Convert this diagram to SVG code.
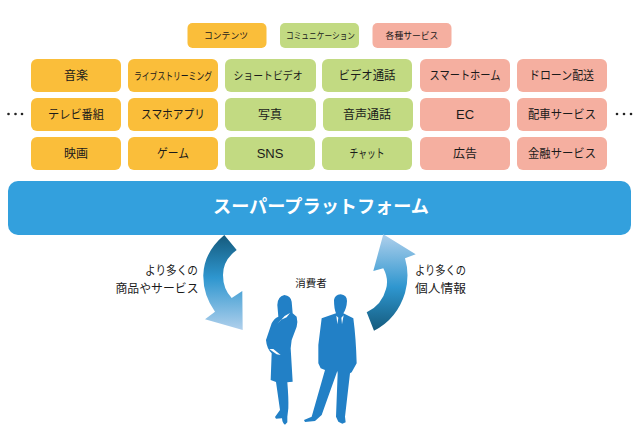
<svg xmlns="http://www.w3.org/2000/svg" width="640" height="432" viewBox="0 0 640 432">
<style>
text{font-family:"Noto Sans CJK JP","Noto Sans",sans-serif;fill:#1a1a1a;text-anchor:middle}
.t{font-size:12px}.l{font-size:8.8px}.c{font-size:12px}
.o{fill:#fabe3a}.g{fill:#c2da82}.p{fill:#f5afa0}
.fig{fill:#2280c6}
.dot{fill:#222}
</style>
<defs>
<linearGradient id="dn" gradientUnits="userSpaceOnUse" x1="0" y1="235" x2="0" y2="330"><stop offset="0" stop-color="#155a7c"/><stop offset=".45" stop-color="#2e96cf"/><stop offset="1" stop-color="#b0d0ec"/></linearGradient>
<linearGradient id="up" gradientUnits="userSpaceOnUse" x1="0" y1="331" x2="0" y2="234"><stop offset="0" stop-color="#155a7c"/><stop offset=".45" stop-color="#2e96cf"/><stop offset="1" stop-color="#b0d0ec"/></linearGradient>
</defs>
<rect width="640" height="432" fill="#fff"/>
<g id="legend-contents"><rect class="o" x="187.5" y="23" width="79" height="25" rx="5"/><text class="l" x="226" y="38.500">コンテンツ</text></g>
<g id="legend-communication"><rect class="g" x="280" y="23" width="79" height="25" rx="5"/><text class="l" x="320.500" y="38.500" textLength="69" lengthAdjust="spacingAndGlyphs">コミュニケーション</text></g>
<g id="legend-services"><rect class="p" x="372.500" y="23" width="79" height="25" rx="5"/><text class="l" x="412" y="38.500">各種サービス</text></g>

<g id="n-music"><rect class="o" x="31" y="59" width="90" height="33" rx="6"/><text class="t" x="76" y="80">音楽</text></g>
<g id="n-tv"><rect class="o" x="31" y="98" width="90" height="33" rx="6"/><text class="t" x="76" y="118.500" textLength="56" lengthAdjust="spacingAndGlyphs">テレビ番組</text></g>
<g id="n-movie"><rect class="o" x="31" y="137" width="90" height="33" rx="6"/><text class="t" x="76" y="157.500">映画</text></g>
<g id="n-live"><rect class="o" x="128" y="59" width="90" height="33" rx="6"/><text x="173" y="79.500" style="font-size:10.500px" textLength="78" lengthAdjust="spacingAndGlyphs">ライブストリーミング</text></g>
<g id="n-app"><rect class="o" x="128" y="98" width="90" height="33" rx="6"/><text class="t" x="173" y="118.500" textLength="64" lengthAdjust="spacingAndGlyphs">スマホアプリ</text></g>
<g id="n-game"><rect class="o" x="128" y="137" width="90" height="33" rx="6"/><text class="t" x="173" y="157.500" textLength="32" lengthAdjust="spacingAndGlyphs">ゲーム</text></g>
<g id="n-short"><rect class="g" x="225" y="59" width="91" height="33" rx="6"/><text x="268" y="80" style="font-size:11px" textLength="69" lengthAdjust="spacingAndGlyphs">ショートビデオ</text></g>
<g id="n-photo"><rect class="g" x="225" y="98" width="91" height="33" rx="6"/><text class="t" x="270" y="118.500">写真</text></g>
<g id="n-sns"><rect class="g" x="225" y="137" width="90" height="33" rx="6"/><text class="t" x="270" y="157.500" style="font-family:'Liberation Sans',sans-serif;font-size:13px">SNS</text></g>
<g id="n-video"><rect class="g" x="322" y="59" width="90" height="33" rx="6"/><text class="t" x="367" y="80" textLength="57" lengthAdjust="spacingAndGlyphs">ビデオ通話</text></g>
<g id="n-voice"><rect class="g" x="323" y="98" width="90" height="33" rx="6"/><text class="t" x="367" y="118.500">音声通話</text></g>
<g id="n-chat"><rect class="g" x="322" y="137" width="90" height="33" rx="6"/><text class="t" x="367" y="157.500" textLength="35" lengthAdjust="spacingAndGlyphs">チャット</text></g>
<g id="n-home"><rect class="p" x="420" y="59" width="90" height="33" rx="6"/><text class="t" x="465" y="80" textLength="71" lengthAdjust="spacingAndGlyphs">スマートホーム</text></g>
<g id="n-ec"><rect class="p" x="420" y="98" width="90" height="33" rx="6"/><text class="t" x="465" y="118.500" style="font-family:'Liberation Sans',sans-serif;font-size:13px">EC</text></g>
<g id="n-ad"><rect class="p" x="420" y="137" width="90" height="33" rx="6"/><text class="t" x="465" y="157.500">広告</text></g>
<g id="n-drone"><rect class="p" x="517" y="59" width="90" height="33" rx="6"/><text class="t" x="561.500" y="80" textLength="65" lengthAdjust="spacingAndGlyphs">ドローン配送</text></g>
<g id="n-ride"><rect class="p" x="517" y="98" width="90" height="33" rx="6"/><text class="t" x="562" y="118.500" textLength="68" lengthAdjust="spacingAndGlyphs">配車サービス</text></g>
<g id="n-fin"><rect class="p" x="517" y="137" width="90" height="33" rx="6"/><text class="t" x="562" y="157.500" textLength="68" lengthAdjust="spacingAndGlyphs">金融サービス</text></g>

<g id="dots-left"><circle class="dot" cx="8.500" cy="114" r="1.300"/><circle class="dot" cx="15.500" cy="114" r="1.300"/><circle class="dot" cx="22" cy="114" r="1.300"/></g>
<g id="dots-right"><circle class="dot" cx="617" cy="114" r="1.300"/><circle class="dot" cx="624" cy="114" r="1.300"/><circle class="dot" cx="631" cy="114" r="1.300"/></g>

<g id="platform"><rect x="8" y="181" width="623" height="54" rx="10" fill="#33a0dd"/><text x="321" y="213" style="font-size:18px;font-weight:700;fill:#fff" textLength="216" lengthAdjust="spacingAndGlyphs">スーパープラットフォーム</text></g>

<g id="connectors">
<path fill="url(#dn)" d="M224.300 235L236.700 250Q223 260 223 275Q223 289 231.700 298L242.300 291L242.700 330L205 319.300L215 311.700Q203 295 203.300 275Q204 252 224.300 235Z"/>
<path fill="url(#up)" d="M383.300 234.300L415.700 254.300L405 258.300Q410 275 405 293Q397 319 374 330.700L366.700 312.300Q382 305 386 289Q389 279 383.300 268.300L373.300 271Z"/>
</g>

<g id="label-goods"><text class="c" x="171.500" y="275" textLength="53" lengthAdjust="spacingAndGlyphs">より多くの</text><text class="c" x="157" y="293" textLength="83" lengthAdjust="spacingAndGlyphs">商品やサービス</text></g>
<g id="label-data"><text class="c" x="440.500" y="275" textLength="51" lengthAdjust="spacingAndGlyphs">より多くの</text><text class="c" x="440.500" y="293" textLength="51" lengthAdjust="spacingAndGlyphs">個人情報</text></g>

<g id="consumer">
<text x="311" y="287" style="font-size:10.500px">消費者</text>
<g transform="translate(250 285) scale(.33333)">
<path class="fig" d="M103 30Q122 32 125 50L128 85L140 95Q144 110 140 125L125 165L122 190L128 290L112 292Q116 340 115 370L112 395L112 412L105 419Q97 415 96 400L78 401L75 396L90 375L78 291L62 285L65 205Q50 190 48 165L65 115Q72 100 85 95L82 60Q82 35 103 30Z"/>
<path class="fig" d="M272 28Q291 30 291 48Q290 70 280 85L310 100Q318 160 320 235L305 262L300 265L285 395L287 412L277 416L265 410L258 395L263 265L262 258L215 390L195 408L165 411L162 405L185 395L225 255L212 250L205 235L205 180L215 100L258 85Q252 70 252 45Q254 30 272 28Z"/>
<path fill="#fff" d="M82 117L104 93L120 84L110 97L92 105ZM58 192L70 192L92 210L80 208L66 198ZM259 92L265 98L262 118ZM281 91L274 98L276 118Z"/>
</g>
</g>
</svg>
